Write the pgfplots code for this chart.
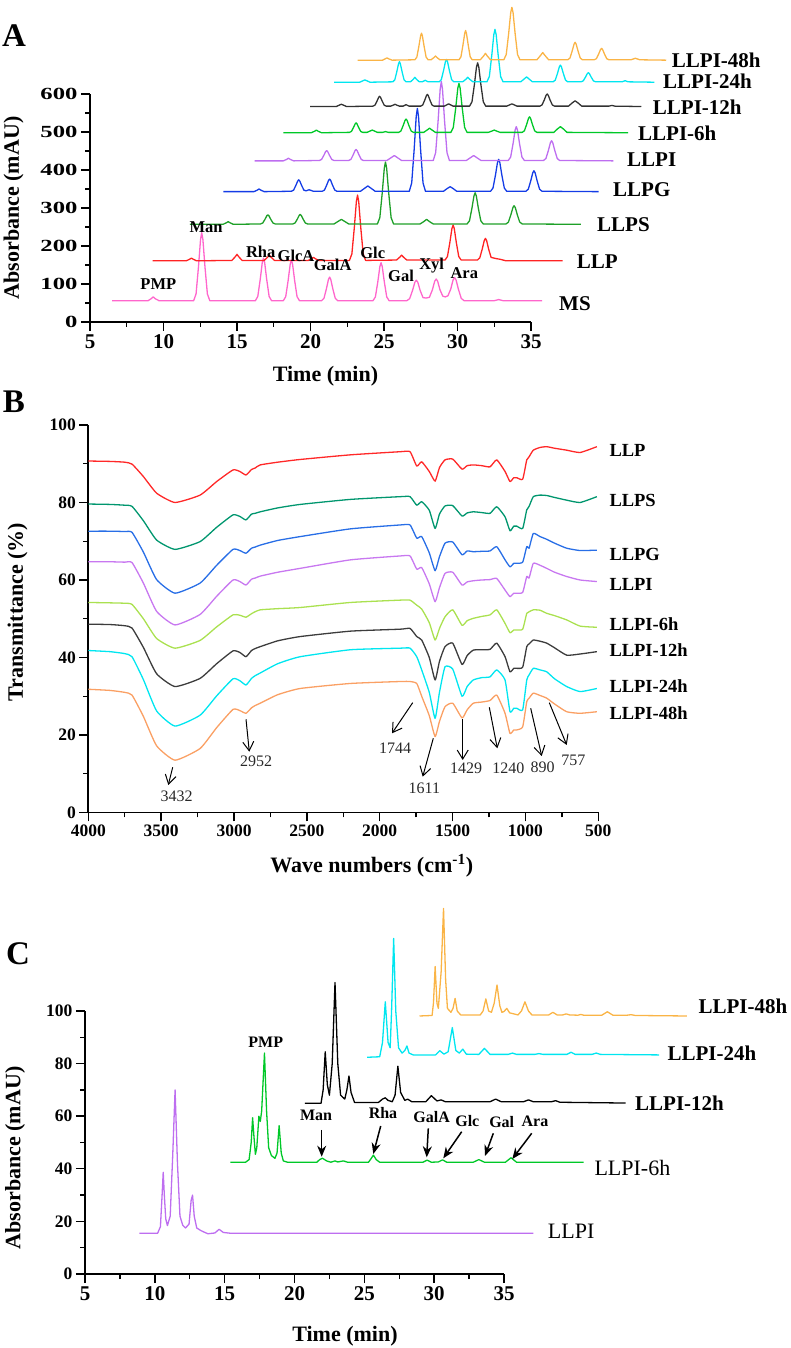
\documentclass[border=0pt]{standalone}
\usepackage{pgfplots}
\pgfplotsset{compat=1.18}
\usepackage{pgfplotstable}
\usetikzlibrary{arrows.meta}
\usepackage{fontspec}
\setmainfont{Liberation Serif}
\newfontfamily\widefont{Liberation Serif}[FakeStretch=1.45]

\definecolor{cMS}{RGB}{255,102,204}
\definecolor{cLLP}{RGB}{255,35,35}
\definecolor{cLLPS}{RGB}{30,160,40}
\definecolor{cLLPG}{RGB}{20,60,230}
\definecolor{cLLPI}{RGB}{190,110,240}
\definecolor{c6h}{RGB}{0,200,40}
\definecolor{c12h}{RGB}{50,50,50}
\definecolor{c24h}{RGB}{0,230,240}
\definecolor{c48h}{RGB}{250,180,70}
\definecolor{bLLP}{RGB}{255,40,40}
\definecolor{bLLPS}{RGB}{0,150,110}
\definecolor{bLLPG}{RGB}{40,110,230}
\definecolor{bLLPI}{RGB}{200,120,240}
\definecolor{b6h}{RGB}{170,225,80}
\definecolor{b12h}{RGB}{60,60,60}
\definecolor{b24h}{RGB}{0,230,240}
\definecolor{b48h}{RGB}{250,160,100}
\definecolor{annot}{RGB}{40,40,40}

\pgfplotstableread{
w LLP LLPS LLPG LLPI L6 L12 L24 L48
4000 90.7 79.6 72.6 64.7 54.2 48.6 41.8 31.8
3850 90.6 79.5 72.6 64.7 54.1 48.5 41.5 31.5
3750 90.4 79.3 72.5 64.6 54.0 48.2 41.0 31.0
3700 89.9 79.0 72.3 64.5 53.7 47.6 40.2 30.3
3622 86.7 75.3 67.2 59.2 50.0 42.6 34.3 24.8
3531 82.4 70.3 60.1 51.9 44.9 35.8 26.2 17.2
3405 80.0 67.9 56.6 48.4 42.4 32.5 22.3 13.5
3233 81.9 69.9 59.2 51.1 44.4 34.6 25.1 16.5
3119 85.4 73.6 63.8 55.8 47.9 38.4 30.1 21.9
3007 88.4 76.8 67.9 60.0 51.0 41.7 34.5 26.6
2960 88.0 76.4 67.6 59.6 50.9 41.3 34.0 26.3
2918 87.1 75.5 66.9 58.7 50.4 40.2 32.9 25.6
2880 88.5 77.0 68.2 60.2 51.3 41.8 34.6 27.0
2855 88.9 77.2 68.5 60.5 51.8 42.3 35.3 27.6
2820 89.7 77.6 69.0 61.0 52.3 42.8 36.0 28.2
2700 90.4 78.6 70.2 62.0 52.6 44.3 38.4 30.4
2546 91.1 79.5 71.2 63.0 52.9 45.4 40.2 32.0
2200 92.3 80.8 73.2 65.2 54.2 46.8 42.0 33.3
1860 93.1 81.5 74.2 66.2 54.8 47.3 42.4 33.8
1792 93.1 81.5 74.2 66.2 54.8 47.5 42.4 33.8
1746 89.4 79.3 70.8 62.8 53.5 45.4 40.2 33.3
1712 90.5 80.2 71.2 63.2 52.5 44.5 36.8 30.0
1660 88.0 78.0 67.0 59.0 49.0 40.0 31.0 25.0
1620 85.5 73.3 62.4 54.4 44.5 34.2 24.3 19.6
1590 89.0 77.0 66.0 58.0 47.5 39.0 31.0 23.5
1552 91.0 79.1 69.5 61.7 50.5 42.8 37.6 27.3
1499 91.2 79.2 69.8 62.0 52.3 43.7 37.0 28.2
1435 88.6 76.5 66.5 58.7 48.3 38.2 30.0 24.4
1400 89.5 77.3 67.5 59.5 49.5 40.5 32.5 26.5
1358 89.7 77.6 67.3 59.8 50.1 41.9 34.2 28.2
1300 89.5 77.4 67.4 60.0 50.6 42.0 34.8 28.5
1243 89.2 77.2 67.5 60.1 51.0 42.1 35.0 28.9
1197 91.0 78.9 68.6 60.4 52.3 43.7 36.8 30.3
1140 88.0 76.3 65.2 57.4 48.8 40.2 34.2 25.6
1106 85.4 72.7 63.4 55.7 46.4 36.3 26.0 20.4
1080 86.4 73.9 64.3 56.6 47.1 37.2 26.9 21.3
1060 86.4 73.9 64.3 56.6 47.1 37.2 26.9 21.3
1019 86.0 73.3 64.6 56.8 47.3 37.5 26.5 22.1
991 91.0 78.1 68.6 60.9 51.4 42.8 34.2 28.6
975 91.8 79.0 68.2 60.5 51.8 43.5 35.5 29.5
946 93.5 81.5 72.0 64.3 52.3 44.5 37.2 30.8
900 94.2 81.9 71.2 63.8 52.2 44.2 36.8 30.2
854 94.4 81.8 70.5 63.0 51.4 43.7 36.3 29.5
800 94.0 81.3 69.5 62.0 50.8 42.5 34.5 28.0
717 93.5 80.6 68.2 60.9 49.7 40.6 32.5 26.0
625 92.9 80.0 67.6 60.0 48.1 40.9 31.2 25.6
510 94.4 81.5 67.7 59.6 47.8 41.5 32.0 26.0
}\ftir

\pgfplotsset{
  panel/.style={scale only axis, clip=false, anchor=south west,
    axis x line*=bottom, axis y line*=left, tick align=outside,
    major tick length=9pt, minor tick length=5pt,
    axis line style={line width=1.6pt, black},
    tick style={line width=1.4pt, black},
    /pgf/number format/assume math mode=true,
    /pgf/number format/1000 sep={},
    scaled ticks=false, enlargelimits=false,
    every axis plot/.append style={line width=1.3pt, line join=round, mark=none}},
}

\begin{document}
\begin{tikzpicture}[x=1pt,y=1pt]
\path[use as bounding box] (0,0) rectangle (790,1348);

% ---------------- Panel A ----------------
\begin{axis}[panel, at={(90pt,1026pt)}, width=441pt, height=228pt,
  xmin=5, xmax=35, ymin=0, ymax=600,
  xtick={5,10,...,35}, ytick={0,100,...,600},
  minor x tick num=1, minor y tick num=1,
  xticklabel style={font=\fontsize{21}{21}\selectfont\bfseries},
  yticklabel style={font=\widefont\fontsize{17}{17}\selectfont\bfseries}]
\addplot[cMS] coordinates {(6.5,56) (8.95,56) (9.15,61) (9.3,66) (9.45,61) (9.7,56)
 (12.05,56) (12.215,73.9) (12.38,145.5) (12.52,217.1) (12.6,235) (12.68,217.1) (12.82,145.5) (12.985,73.9) (13.15,56)
 (16.25,56) (16.415,67.2) (16.58,112) (16.72,156.8) (16.8,168) (16.88,156.8) (17.02,112) (17.185,67.2) (17.35,56)
 (18.15,56) (18.315,66.7) (18.48,109.5) (18.62,152.3) (18.7,163) (18.78,152.3) (18.92,109.5) (19.085,66.7) (19.25,56)
 (20.75,56) (20.915,62.2) (21.08,87) (21.22,111.8) (21.3,118) (21.38,111.8) (21.52,87) (21.685,62.2) (21.85,56)
 (24.25,56) (24.415,66) (24.58,106) (24.72,146) (24.8,156) (24.88,146) (25.02,106) (25.185,66) (25.35,56)
 (26.55,56) (26.745,61.4) (26.94,83) (27.1,104.6) (27.2,110) (27.3,104.6) (27.46,83) (27.655,64) (27.87,63)
 (28.09,65) (28.29,84.5) (28.45,107.3) (28.55,113) (28.65,107.3) (28.81,84.5) (29.0,68) (29.17,66)
 (29.35,69) (29.54,86.5) (29.7,110.9) (29.8,117) (29.9,110.9) (30.06,86.5) (30.255,62.1) (30.45,56)
 (32.5,56) (32.8,59) (33.1,56) (35.75,56)};
\addplot[cLLP] coordinates {(9.26,161) (11.55,161) (11.78,165.2) (11.9,168) (12.02,165.2) (12.25,161)
 (14.65,162) (14.88,171.6) (15.0,178) (15.12,171.6) (15.35,162)
 (16.85,162) (17.08,170.4) (17.2,176) (17.32,170.4) (17.55,162)
 (19.85,162) (20.08,166.8) (20.2,170) (20.32,166.8) (20.55,162)
 (22.65,162) (22.815,179.2) (22.98,248) (23.12,316.8) (23.2,334) (23.28,316.8) (23.42,248) (23.585,179.2) (23.75,162)
 (25.85,163) (26.08,170.8) (26.2,176) (26.32,170.8) (26.55,163)
 (29.15,163) (29.315,172.2) (29.48,209) (29.62,245.8) (29.7,255) (29.78,245.8) (29.92,209) (30.085,172.2) (30.25,163)
 (31.35,163) (31.515,168.7) (31.68,191.5) (31.82,214.3) (31.9,220) (31.98,214.3) (32.12,191.5) (32.285,170) (32.6,167) (32.9,165) (33.3,161) (37.15,161)};
\addplot[cLLPS] coordinates {(11.8,257) (14.05,257) (14.28,261.2) (14.4,264) (14.52,261.2) (14.75,257)
 (16.6,258) (16.75,260.4) (16.9,270) (17.03,279.6) (17.1,282) (17.17,279.6) (17.3,270) (17.45,260.4) (17.6,258)
 (18.8,258) (18.95,260.5) (19.1,270.5) (19.23,280.5) (19.3,283) (19.37,280.5) (19.5,270.5) (19.65,260.5) (19.8,258)
 (21.6,258) (21.85,264) (22.1,270) (22.35,264) (22.6,258)
 (24.55,258) (24.715,274.3) (24.88,339.5) (25.02,404.7) (25.1,421) (25.18,404.7) (25.32,339.5) (25.485,274.3) (25.65,258)
 (27.45,258) (27.7,264) (27.9,270) (28.1,264) (28.35,258)
 (30.65,258) (30.815,266.2) (30.98,299) (31.12,331.8) (31.2,340) (31.28,331.8) (31.42,299) (31.585,266.2) (31.75,258)
 (33.3,258) (33.465,262.8) (33.63,282) (33.77,301.2) (33.85,306) (33.93,301.2) (34.07,282) (34.235,262.8) (34.4,258) (38.4,257)};
\addplot[cLLPG] coordinates {(14.07,343) (16.15,343) (16.38,347) (16.5,350) (16.62,347) (16.85,343)
 (18.7,344) (18.85,347) (19.0,359) (19.13,371) (19.2,374) (19.27,371) (19.4,359) (19.55,347) (19.7,345) (19.9,348) (20.2,344)
 (20.8,344) (20.95,347.2) (21.1,360) (21.23,372.8) (21.3,376) (21.37,372.8) (21.5,360) (21.65,347.2) (21.8,344)
 (23.4,344) (23.7,352.4) (23.9,358) (24.1,352.4) (24.4,344)
 (26.72,344) (26.885,365.8) (27.05,453) (27.19,540.2) (27.27,562) (27.35,540.2) (27.49,453) (27.655,365.8) (27.82,344)
 (29.05,344) (29.3,351.2) (29.5,356) (29.7,351.2) (29.95,344)
 (32.25,344) (32.415,352.4) (32.58,386) (32.72,419.6) (32.8,428) (32.88,419.6) (33.02,386) (33.185,352.4) (33.35,344)
 (34.65,344) (34.815,349.4) (34.98,371) (35.12,392.6) (35.2,398) (35.28,392.6) (35.42,371) (35.585,349.4) (35.75,344) (39.6,343)};
\addplot[cLLPI] coordinates {(16.2,424) (18.15,424) (18.38,428) (18.5,431) (18.62,428) (18.85,424)
 (20.6,425) (20.75,427.6) (20.9,438) (21.03,448.4) (21.1,451) (21.17,448.4) (21.3,438) (21.45,427.6) (21.6,425)
 (22.6,425) (22.75,427.9) (22.9,439.5) (23.03,451.1) (23.1,454) (23.17,451.1) (23.3,439.5) (23.45,427.9) (23.6,425)
 (25.2,425) (25.5,432.8) (25.7,438) (25.9,432.8) (26.2,425)
 (28.35,425) (28.515,445.8) (28.68,529) (28.82,612.2) (28.9,633) (28.98,612.2) (29.12,529) (29.285,445.8) (29.45,425)
 (30.6,425) (30.9,432.8) (31.1,438) (31.3,432.8) (31.6,425)
 (33.45,425) (33.615,433.9) (33.78,469.5) (33.92,505.1) (34.0,514) (34.08,505.1) (34.22,469.5) (34.385,433.9) (34.55,425)
 (35.85,425) (36.015,430.2) (36.18,451) (36.32,471.8) (36.4,477) (36.48,471.8) (36.62,451) (36.785,430.2) (36.95,425) (40.6,424)};
\addplot[c6h] coordinates {(18.15,498) (20.05,498) (20.28,502) (20.4,505) (20.52,502) (20.75,498)
 (22.65,499) (22.785,501.5) (22.92,511.5) (23.04,521.5) (23.1,524) (23.16,521.5) (23.28,511.5) (23.415,501.5) (23.55,499)
 (23.85,499) (24.08,503) (24.2,505) (24.32,503) (24.55,499) (24.9,499) (25.1,501) (25.3,499)
 (26.0,499) (26.15,502.5) (26.3,516.5) (26.43,530.5) (26.5,534) (26.57,530.5) (26.7,516.5) (26.85,502.5) (27.0,499)
 (27.7,499) (27.95,505.6) (28.1,510) (28.25,505.6) (28.5,499)
 (29.55,499) (29.715,511.9) (29.88,563.5) (30.02,615.1) (30.1,628) (30.18,615.1) (30.32,563.5) (30.485,511.9) (30.65,499)
 (32.1,499) (32.35,502.6) (32.5,505) (32.65,502.6) (32.9,499)
 (34.4,499) (34.55,503.1) (34.7,519.5) (34.83,535.9) (34.9,540) (34.97,535.9) (35.1,519.5) (35.25,503.1) (35.4,499)
 (36.55,499) (36.8,508) (37.0,514) (37.2,508) (37.45,499) (41.6,498)};
\addplot[c12h] coordinates {(19.97,567) (21.75,567) (21.98,571) (22.1,573) (22.22,571) (22.45,567)
 (24.25,568) (24.385,570.6) (24.52,581) (24.64,591.4) (24.7,594) (24.76,591.4) (24.88,581) (25.015,570.6) (25.15,568)
 (25.45,568) (25.65,571) (25.75,573) (25.85,571) (26.05,568) (26.3,568) (26.5,572) (26.7,568)
 (27.5,568) (27.635,571.1) (27.77,583.5) (27.89,595.9) (27.95,599) (28.01,595.9) (28.13,583.5) (28.265,571.1) (28.4,568)
 (29.1,568) (29.3,572) (29.4,574) (29.5,572) (29.7,568)
 (30.82,568) (30.985,579.4) (31.15,625) (31.29,670.6) (31.37,682) (31.45,670.6) (31.59,625) (31.755,579.4) (31.92,568)
 (33.35,568) (33.58,572) (33.7,574) (33.82,572) (34.05,568)
 (35.6,568) (35.75,571.2) (35.9,584) (36.03,596.8) (36.1,600) (36.17,596.8) (36.3,584) (36.45,571.2) (36.6,568)
 (37.55,568) (37.8,576.4) (38.0,582) (38.2,576.4) (38.45,568) (40.3,568) (40.5,570) (40.7,568) (42.5,567)};
\addplot[c24h] coordinates {(21.6,631) (23.35,631) (23.58,635) (23.7,637) (23.82,635) (24.05,631)
 (25.6,632) (25.735,637.3) (25.87,658.5) (25.99,679.7) (26.05,685) (26.11,679.7) (26.23,658.5) (26.365,637.3) (26.5,632)
 (26.8,632) (27.0,639) (27.1,644) (27.2,639) (27.4,632) (27.6,632) (27.8,636) (28.0,632)
 (28.75,632) (28.9,637.9) (29.05,661.5) (29.18,685.1) (29.25,691) (29.32,685.1) (29.45,661.5) (29.6,637.9) (29.75,632)
 (30.35,632) (30.58,639) (30.7,644) (30.82,639) (31.05,632)
 (32.0,632) (32.165,645.8) (32.33,701) (32.47,756.2) (32.55,770) (32.63,756.2) (32.77,701) (32.935,645.8) (33.1,632)
 (34.3,632) (34.55,640) (34.7,645) (34.85,640) (35.1,632)
 (36.5,632) (36.65,636.4) (36.8,654) (36.93,671.6) (37.0,676) (37.07,671.6) (37.2,654) (37.35,636.4) (37.5,632)
 (38.4,632) (38.55,634.4) (38.7,644) (38.83,653.6) (38.9,656) (38.97,653.6) (39.1,644) (39.25,634.4) (39.4,632)
 (41.2,632) (41.4,635) (41.6,632) (43.4,631)};
\addplot[c48h] coordinates {(23.2,689) (24.9,689) (25.08,692.5) (25.2,695) (25.32,692.5) (25.55,689)
 (27.1,690) (27.235,697) (27.37,725) (27.49,753) (27.55,760) (27.61,753) (27.73,725) (27.865,697) (28.0,690)
 (28.2,690) (28.4,696) (28.5,700) (28.6,696) (28.8,690)
 (30.1,690) (30.235,697.7) (30.37,728.5) (30.49,759.3) (30.55,767) (30.61,759.3) (30.73,728.5) (30.865,697.7) (31.0,690)
 (31.55,690) (31.78,700.2) (31.9,707) (32.02,700.2) (32.25,690)
 (33.15,690) (33.315,703.8) (33.48,759) (33.62,814.2) (33.7,828) (33.78,814.2) (33.92,759) (34.085,703.8) (34.25,690)
 (35.4,690) (35.65,701.4) (35.8,709) (35.95,701.4) (36.2,690)
 (37.5,690) (37.65,694.6) (37.8,713) (37.93,731.4) (38.0,736) (38.07,731.4) (38.2,713) (38.35,694.6) (38.5,690)
 (39.3,690) (39.45,693) (39.6,705) (39.73,717) (39.8,720) (39.87,717) (40.0,705) (40.15,693) (40.3,690)
 (41.8,690) (42.1,694) (42.4,690) (44.2,689)};
\end{axis}

% ---------------- Panel B ----------------
\begin{axis}[panel, at={(88.3pt,535.5pt)}, width=510pt, height=387.5pt,
  x dir=reverse, xmin=500, xmax=4000, ymin=0, ymax=100,
  xtick={500,1000,...,4000}, ytick={0,20,...,100},
  minor x tick num=1, minor y tick num=1,
  xticklabel style={font=\fontsize{17.5}{17.5}\selectfont\bfseries},
  yticklabel style={font=\fontsize{17.5}{17.5}\selectfont\bfseries},
  every axis plot/.append style={smooth, tension=0.3}]
\addplot[bLLP]  table[x=w,y=LLP]  {\ftir};
\addplot[bLLPS] table[x=w,y=LLPS] {\ftir};
\addplot[bLLPG] table[x=w,y=LLPG] {\ftir};
\addplot[bLLPI] table[x=w,y=LLPI] {\ftir};
\addplot[b6h]   table[x=w,y=L6]   {\ftir};
\addplot[b12h]  table[x=w,y=L12]  {\ftir};
\addplot[b24h]  table[x=w,y=L24]  {\ftir};
\addplot[b48h]  table[x=w,y=L48]  {\ftir};
\end{axis}

% ---------------- Panel C ----------------
\begin{axis}[panel, at={(85pt,74pt)}, width=419pt, height=263pt,
  xmin=5, xmax=35, ymin=0, ymax=100,
  xtick={5,10,...,35}, ytick={0,20,...,100},
  minor x tick num=1, minor y tick num=1,
  xticklabel style={font=\fontsize{21}{21}\selectfont\bfseries},
  yticklabel style={font=\fontsize{17.5}{17.5}\selectfont\bfseries}]
\addplot[cLLPI] coordinates {(8.9,15.5) (10.2,15.5) (10.4,18) (10.52,30) (10.6,38.7) (10.68,30) (10.78,21) (10.9,18.4) (11.1,22) (11.28,45) (11.45,70) (11.62,42) (11.8,22)
 (12.0,18.5) (12.2,17.5) (12.45,19) (12.6,28) (12.7,30) (12.82,22) (13.0,17.5) (13.3,16.5) (13.5,16) (13.8,15.3) (14.3,15.6) (14.6,17) (14.9,15.8) (15.4,15.5) (37.1,15.5)};
\addplot[c6h] coordinates {(15.4,42.5) (16.5,42.5) (16.75,43.5) (16.9,50) (17.0,59.4) (17.1,52) (17.2,45.5) (17.3,48) (17.45,60) (17.55,58) (17.65,62) (17.85,84) (18.0,62) (18.15,48) (18.35,45) (18.6,44) (18.75,46) (18.9,56.4) (19.05,46) (19.2,43) (19.5,42.5)
 (21.6,42.5) (21.8,43.5) (22.0,44) (22.3,43) (22.6,42.5) (22.9,43) (23.1,42.6) (23.5,43) (23.8,42.5) (25.3,42.5) (25.5,44) (25.65,45.2) (25.85,43.5) (26.1,42.5)
 (29.2,42.5) (29.5,43.3) (29.8,42.5) (30.3,42.6) (30.6,43.4) (30.9,42.5) (32.8,42.5) (33.2,43.5) (33.6,42.5) (35.1,42.5) (35.5,44.2) (35.9,42.5) (40.7,42.5)};
\addplot[black] coordinates {(20.75,64.9) (21.9,64.9) (22.05,70) (22.2,84.5) (22.35,72) (22.5,68) (22.7,80) (22.9,110.8) (23.1,80) (23.3,68) (23.6,66.5) (23.75,70) (23.9,75.3) (24.05,69) (24.3,65.2)
 (26.0,65.2) (26.3,66.5) (26.5,67) (26.7,66) (27.0,65.5) (27.2,68) (27.4,79) (27.6,69) (27.9,66) (28.1,66.5) (28.4,65.5)
 (29.4,65.5) (29.8,67.8) (30.2,65.8) (30.5,66.2) (30.8,65.5) (34.0,65.5) (34.4,66.5) (34.8,65.5) (36.4,65.5) (36.75,66.2) (37.1,65.5) (38.4,65.5) (38.7,65.9) (39.0,65.3) (43.7,65)};
\addplot[c24h] coordinates {(25.2,82.4) (26.1,82.6) (26.3,88) (26.5,103.5) (26.7,88) (26.85,86) (26.95,100) (27.1,127.6) (27.25,100) (27.45,86) (27.7,84) (27.9,85) (28.05,86.7) (28.2,84) (28.5,83.3)
 (30.1,83.3) (30.4,84.9) (30.7,83.6) (31.0,84.5) (31.3,93.7) (31.55,85) (31.8,84) (32.05,85.5) (32.3,83.6) (33.2,83.5) (33.6,85.8) (34.0,83.5)
 (35.3,83.5) (35.6,84) (35.9,83.5) (37.2,83.5) (37.5,83.8) (37.8,83.5) (39.5,83.5) (39.8,84.3) (40.1,83.5) (41.3,83.5) (41.6,84) (41.9,83.5) (46.1,83.3)};
\addplot[c48h] coordinates {(28.95,98.1) (29.85,98.3) (29.95,103) (30.07,116.9) (30.2,103) (30.3,101) (30.5,115) (30.67,139) (30.82,112) (30.95,101) (31.2,99.5) (31.35,101) (31.5,104.8) (31.65,100) (31.9,98.5)
 (33.3,98.5) (33.5,100) (33.7,104.6) (33.9,100) (34.1,99.5) (34.3,103) (34.5,109.9) (34.7,102) (34.85,99.5) (35.0,99.8) (35.2,101) (35.4,99.3)
 (36.0,98.5) (36.25,100) (36.5,103.5) (36.75,100) (37.0,98.5) (38.2,98.5) (38.5,99.5) (38.8,98.5) (39.2,98.5) (39.45,98.9) (39.7,98.5)
 (40.3,98.4) (40.5,98.7) (40.7,98.4) (42.0,98.4) (42.4,99.7) (42.8,98.4) (43.8,98.4) (44.1,98.6) (44.4,98.3) (48.1,98.1)};
\end{axis}

% ---------------- Texts ----------------
\begin{scope}[every node/.style={inner sep=0pt}]
\node[font=\fontsize{33}{33}\selectfont\bfseries] at (14,1312) {A};
\node[font=\fontsize{33}{33}\selectfont\bfseries] at (14,946) {B};
\node[font=\fontsize{33}{33}\selectfont\bfseries] at (18,394) {C};
\node[font=\fontsize{22}{22}\selectfont\bfseries] at (325.5,972) {Time (min)};
\node[font=\fontsize{22}{22}\selectfont\bfseries, rotate=90] at (13.5,1140) {Absorbance (mAU)};
\node[font=\fontsize{22}{22}\selectfont\bfseries] at (371.7,482) {Wave numbers (cm\textsuperscript{-1})};
\node[font=\fontsize{22}{22}\selectfont\bfseries, rotate=90] at (17.5,736) {Transmittance (\%)};
\node[font=\fontsize{22}{22}\selectfont\bfseries] at (345,12) {Time (min)};
\node[font=\fontsize{22}{22}\selectfont\bfseries, rotate=90] at (15,190) {Absorbance (mAU)};
\begin{scope}[every node/.append style={anchor=west, font=\fontsize{21}{21}\selectfont\bfseries}]
\node at (671.7,1288) {LLPI-48h};
\node at (663,1266.3) {LLPI-24h};
\node at (652.7,1240.3) {LLPI-12h};
\node at (638,1215) {LLPI-6h};
\node at (627,1188) {LLPI};
\node at (613,1158) {LLPG};
\node at (597,1123) {LLPS};
\node at (576.7,1086.3) {LLP};
\node at (559,1044) {MS};
\end{scope}
\begin{scope}[every node/.append style={font=\fontsize{16.5}{16.5}\selectfont\bfseries}]
\node at (158.3,1063.7) {PMP};
\node at (206,1120.7) {Man};
\node at (260.7,1096.3) {Rha};
\node at (296,1092.3) {GlcA};
\node at (332.7,1083) {GalA};
\node at (372.7,1094.7) {Glc};
\node at (401,1072) {Gal};
\node at (431.7,1082) {Xyl};
\node at (464.3,1075.3) {Ara};
\end{scope}
\begin{scope}[every node/.append style={anchor=west, font=\fontsize{18.5}{18.5}\selectfont\bfseries}]
\node at (609.3,898) {LLP};
\node at (609.3,848) {LLPS};
\node at (609.3,794) {LLPG};
\node at (609.3,764) {LLPI};
\node at (609.3,723.7) {LLPI-6h};
\node at (609.3,698) {LLPI-12h};
\node at (609.3,662) {LLPI-24h};
\node at (609.3,634.7) {LLPI-48h};
\end{scope}
\begin{scope}[every node/.append style={font=\fontsize{16}{16}\selectfont, text=annot}]
\draw[-{Straight Barb[length=9pt,width=11pt]}, line width=1pt] (172.7,580.7) -- (168.3,563);
\node at (176.5,552) {3432};
\draw[-{Straight Barb[length=9pt,width=11pt]}, line width=1pt] (246,628.7) -- (249.3,596.3);
\node at (256,586.3) {2952};
\draw[-{Straight Barb[length=9pt,width=11pt]}, line width=1pt] (412.7,645.3) -- (392,614.7);
\node at (395,600) {1744};
\draw[-{Straight Barb[length=9pt,width=11pt]}, line width=1pt] (433.3,609.7) -- (422.7,571.3);
\node at (424.3,559.7) {1611};
\draw[-{Straight Barb[length=9pt,width=11pt]}, line width=1pt] (462.7,628.7) -- (462.7,588);
\node at (466,579.7) {1429};
\draw[-{Straight Barb[length=9pt,width=11pt]}, line width=1pt] (489.3,640.7) -- (497.3,599.7);
\node at (508.3,579.7) {1240};
\draw[-{Straight Barb[length=9pt,width=11pt]}, line width=1pt] (530.7,639.7) -- (541.7,592);
\node at (542.7,580.7) {890};
\draw[-{Straight Barb[length=9pt,width=11pt]}, line width=1pt] (549.3,645.3) -- (566.7,603);
\node at (573.3,588) {757};
\end{scope}
\node[anchor=west, font=\fontsize{21}{21}\selectfont\bfseries] at (698.3,341.3) {LLPI-48h};
\node[anchor=west, font=\fontsize{21}{21}\selectfont\bfseries] at (667.3,294.7) {LLPI-24h};
\node[anchor=west, font=\fontsize{21}{21}\selectfont\bfseries] at (635,244.7) {LLPI-12h};
\node[anchor=west, font=\fontsize{22}{22}\selectfont] at (594.3,179.7) {LLPI-6h};
\node[anchor=west, font=\fontsize{22}{22}\selectfont] at (547.7,116.3) {LLPI};
\begin{scope}[every node/.append style={font=\fontsize{16}{16}\selectfont\bfseries}]
\node at (265.7,305.3) {PMP};
\node at (316,233) {Man};
\draw[-{Stealth[length=11pt,width=9pt]}, line width=1.5pt] (321.7,218) -- (321.7,191.3);
\node at (383,234.7) {Rha};
\draw[-{Stealth[length=11pt,width=9pt]}, line width=1.5pt] (380.7,222) -- (373.3,194);
\node at (431.7,230.7) {GalA};
\draw[-{Stealth[length=11pt,width=9pt]}, line width=1.5pt] (428.3,219.7) -- (426.7,190.7);
\node at (467.3,227.3) {Glc};
\draw[-{Stealth[length=11pt,width=9pt]}, line width=1.5pt] (461.7,216.3) -- (443.3,189.7);
\node at (501.7,225.7) {Gal};
\draw[-{Stealth[length=11pt,width=9pt]}, line width=1.5pt] (493.3,214.7) -- (485,192);
\node at (535,227) {Ara};
\draw[-{Stealth[length=11pt,width=9pt]}, line width=1.5pt] (531.7,214.7) -- (512.3,189);
\end{scope}
\end{scope}
\end{tikzpicture}
\end{document}
